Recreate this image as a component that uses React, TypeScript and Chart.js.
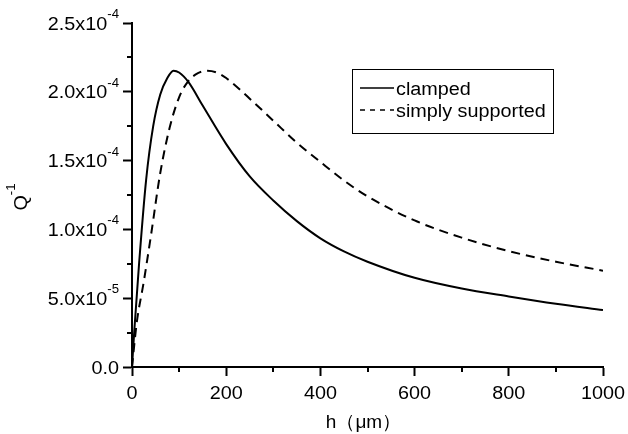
import React, { useEffect, useRef } from 'react';
import { Chart, registerables } from 'chart.js';

Chart.register(...registerables);

// h (μm)
const clampedH = [0, 5, 15, 30, 45, 60, 75, 88, 100, 120, 150, 200, 250, 300, 350, 400, 450, 500, 600, 700, 800, 900, 1000];
// Q^-1 in units of 1e-4
const clampedQ = [0, 0.27, 0.75, 1.36, 1.75, 1.98, 2.10, 2.153, 2.14, 2.07, 1.90, 1.62, 1.385, 1.21, 1.06, 0.935, 0.84, 0.765, 0.648, 0.57, 0.513, 0.46, 0.414];

const simplyH = [0, 10, 25, 40, 60, 80, 100, 120, 140, 160, 180, 200, 250, 300, 350, 400, 450, 500, 600, 700, 800, 900, 1000];
const simplyQ = [0, 0.32, 0.62, 0.95, 1.41, 1.74, 1.96, 2.08, 2.135, 2.153, 2.14, 2.10, 1.95, 1.79, 1.63, 1.49, 1.355, 1.24, 1.065, 0.94, 0.842, 0.765, 0.70];

const seriesLabels = ['clamped', 'simply supported'];

const xTickValues = [0, 200, 400, 600, 800, 1000];
const xTickLabels = ['0', '200', '400', '600', '800', '1000'];
const xMinorTicks = [100, 300, 500, 700, 900];
const yTickValues = [0, 0.5e-4, 1.0e-4, 1.5e-4, 2.0e-4, 2.5e-4];
const yTickLabels = ['0.0', '5.0x10^-5', '1.0x10^-4', '1.5x10^-4', '2.0x10^-4', '2.5x10^-4'];
const yMinorTicks = [0.25e-4, 0.75e-4, 1.25e-4, 1.75e-4, 2.25e-4];

const xTitle = 'h（μm）';
const yTitleBase = 'Q';
const yTitleExp = '-1';

const FONT = '"Liberation Sans", Arial, Helvetica, sans-serif';
const STRETCH = 1.1;

function drawText(ctx: CanvasRenderingContext2D, text: string, x: number, y: number, size: number, align: 'left' | 'right' | 'center') {
  ctx.save();
  ctx.font = `${size}px ${FONT}`;
  ctx.textAlign = 'left';
  ctx.textBaseline = 'alphabetic';
  const w = ctx.measureText(text).width;
  ctx.translate(x, y);
  ctx.scale(STRETCH, 1);
  const off = align === 'left' ? 0 : align === 'right' ? -w : -w / 2;
  ctx.fillText(text, off, 0);
  ctx.restore();
  return w * STRETCH;
}

function textWidth(ctx: CanvasRenderingContext2D, text: string, size: number) {
  ctx.save();
  ctx.font = `${size}px ${FONT}`;
  const w = ctx.measureText(text).width * STRETCH;
  ctx.restore();
  return w;
}

const customPlugin = {
  id: 'custom',
  afterDraw(chart: any) {
    const ctx = chart.ctx as CanvasRenderingContext2D;
    const xs = chart.scales.x;
    const ys = chart.scales.y;
    const area = chart.chartArea;
    ctx.save();
    ctx.strokeStyle = '#000';
    ctx.fillStyle = '#000';
    ctx.lineWidth = 2;
    // minor ticks
    ctx.beginPath();
    xMinorTicks.forEach((v) => {
      const px = Math.round(xs.getPixelForValue(v));
      ctx.moveTo(px, area.bottom);
      ctx.lineTo(px, area.bottom + 5);
    });
    yMinorTicks.forEach((v) => {
      const py = Math.round(ys.getPixelForValue(v));
      ctx.moveTo(area.left, py);
      ctx.lineTo(area.left - 5, py);
    });
    ctx.stroke();

    // x tick labels
    xTickValues.forEach((v, i) => {
      const px = xs.getPixelForValue(v);
      drawText(ctx, xTickLabels[i], px, area.bottom + 32, 18, 'center');
    });

    // x title
    ctx.save();
    ctx.font = `19px ${FONT}`;
    ctx.textAlign = 'center';
    ctx.fillText(xTitle, (area.left + area.right) / 2 - 4, 428);
    ctx.restore();

    // y tick labels with superscripts
    const right = area.left - 13;
    yTickValues.forEach((v, i) => {
      const py = ys.getPixelForValue(v);
      const [mant, exp] = yTickLabels[i].split('^');
      let expW = 0;
      if (exp) {
        expW = drawText(ctx, exp, right, py - 5, 12, 'right');
      }
      drawText(ctx, mant, right - expW, py + 6.5, 18, 'right');
    });

    // y title rotated
    ctx.save();
    ctx.translate(20, (area.top + area.bottom) / 2 + 2);
    ctx.rotate(-Math.PI / 2);
    const qW = textWidth(ctx, yTitleBase, 18);
    const eW = textWidth(ctx, yTitleExp, 12);
    const total = qW + eW;
    drawText(ctx, yTitleBase, -total / 2, 6.5, 18, 'left');
    drawText(ctx, yTitleExp, -total / 2 + qW, -5, 12, 'left');
    ctx.restore();

    // legend
    const bx = 352, by = 69, bw = 201, bh = 64;
    ctx.lineWidth = 1;
    ctx.strokeRect(bx + 0.5, by + 0.5, bw, bh);
    const ds = chart.data.datasets;
    const rows = [88, 110];
    ds.forEach((d: any, i: number) => {
      const y = rows[i];
      ctx.lineWidth = 1.5;
      ctx.setLineDash(d.borderDash && d.borderDash.length ? [5, 5] : []);
      ctx.beginPath();
      ctx.moveTo(360, y);
      ctx.lineTo(394, y);
      ctx.stroke();
      ctx.setLineDash([]);
      drawText(ctx, d.label, 396, y + 6.5, 18, 'left');
    });
    ctx.restore();
  },
};

export default function App() {
  const ref = useRef<HTMLCanvasElement | null>(null);
  useEffect(() => {
    if (!ref.current) return;
    const chart = new Chart(ref.current, {
      type: 'line',
      data: {
        datasets: [
          {
            label: seriesLabels[0],
            data: clampedH.map((x, i) => ({ x, y: clampedQ[i] * 1e-4 })),
            borderColor: '#000',
            borderWidth: 2,
            pointRadius: 0,
            fill: false,
            cubicInterpolationMode: 'monotone',
          },
          {
            label: seriesLabels[1],
            data: simplyH.map((x, i) => ({ x, y: simplyQ[i] * 1e-4 })),
            borderColor: '#000',
            borderWidth: 2,
            borderDash: [9, 6],
            pointRadius: 0,
            fill: false,
            cubicInterpolationMode: 'monotone',
          },
        ],
      },
      options: {
        animation: false,
        responsive: false,
        maintainAspectRatio: false,
        layout: { padding: { top: 23, right: 25, left: 0, bottom: 0 } },
        plugins: { legend: { display: false }, tooltip: { enabled: false } },
        scales: {
          x: {
            type: 'linear',
            min: 0,
            max: 1000,
            afterBuildTicks: (s: any) => {
              s.ticks = xTickValues.map((v) => ({ value: v }));
            },
            ticks: { display: false },
            grid: {
              drawOnChartArea: false,
              drawTicks: true,
              tickLength: 9,
              tickWidth: 2,
              tickColor: '#000',
            },
            border: { display: true, color: '#000', width: 2 },
            afterFit: (s: any) => {
              s.height = 67;
            },
          },
          y: {
            type: 'linear',
            min: 0,
            max: 2.5e-4,
            afterBuildTicks: (s: any) => {
              s.ticks = yTickValues.map((v) => ({ value: v }));
            },
            ticks: { display: false },
            grid: {
              drawOnChartArea: false,
              drawTicks: true,
              tickLength: 9,
              tickWidth: 2,
              tickColor: '#000',
            },
            border: { display: true, color: '#000', width: 2 },
            afterFit: (s: any) => {
              s.width = 132;
            },
          },
        },
      },
      plugins: [customPlugin],
    } as any);
    return () => chart.destroy();
  }, []);
  return (
    <div style={{ position: 'fixed', left: 0, top: 0, width: 628, height: 434, background: '#fff' }}>
      <canvas ref={ref} width={628} height={434} style={{ width: 628, height: 434, display: 'block' }} />
    </div>
  );
}
